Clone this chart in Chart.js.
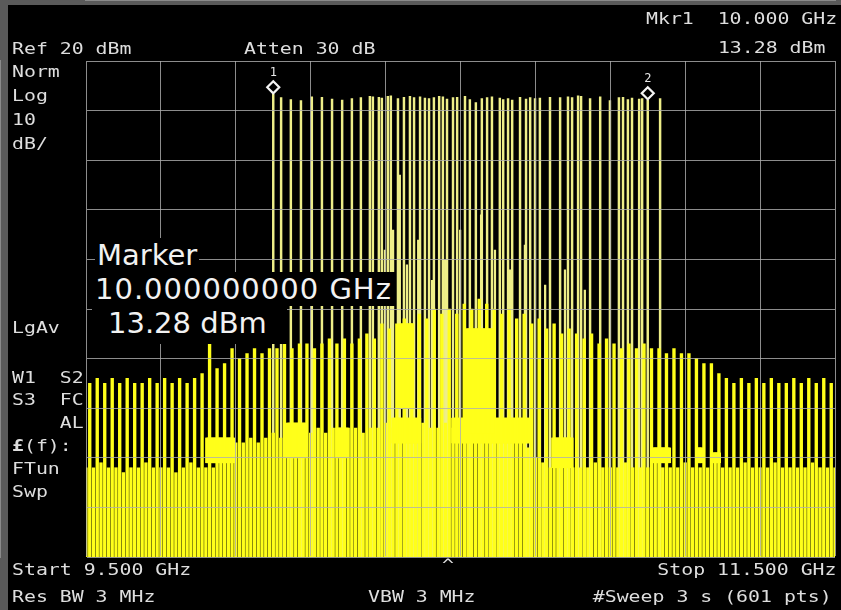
<!DOCTYPE html>
<html>
<head>
<meta charset="utf-8">
<script src="https://cdn.jsdelivr.net/npm/chart.js@4.4.1/dist/chart.umd.min.js"></script>
<style>
  html, body { margin: 0; padding: 0; background: #000; }
  #wrap { position: relative; width: 841px; height: 610px; overflow: hidden; background: #000; }
  #frameTop { position: absolute; left: 0; top: 0; width: 841px; height: 5px; background: #5a5a5a; }
  #frameLeft { position: absolute; left: 0; top: 0; width: 8px; height: 610px; background: #5a5a5a; }
  canvas { position: absolute; left: 0; top: 0; }
  .t { position: absolute; color: #dedede; font-family: "DejaVu Sans Mono", monospace; font-size: 16px;
       line-height: 18px; white-space: pre; transform: scaleX(1.24); transform-origin: left center; }
  .r { transform-origin: right center; }
  .big { position: absolute; color: #f2f2f2; font-family: "DejaVu Sans", sans-serif; font-size: 29px;
         line-height: 34px; white-space: pre; background: #000; }
  .mk { position: absolute; color: #e6e6e6; font-family: "DejaVu Sans Mono", monospace; font-size: 12px;
        line-height: 12px; }
</style>
</head>
<body>
<div id="wrap">
  <div id="frameTop"></div>
  <div id="frameLeft"></div>
  <canvas id="sa" width="841" height="610"></canvas>

  <div class="t r" style="right:4px;top:10px">Mkr1  10.000 GHz</div>
  <div class="t" style="left:12px;top:40px">Ref 20 dBm</div>
  <div class="t" style="left:244px;top:40px">Atten 30 dB</div>
  <div class="t r" style="right:4px;top:39px">13.28 dBm </div>

  <div class="t" style="left:12px;top:63px">Norm</div>
  <div class="t" style="left:12px;top:87px">Log</div>
  <div class="t" style="left:12px;top:111px">10</div>
  <div class="t" style="left:12px;top:135px">dB/</div>
  <div class="t" style="left:12px;top:319px">LgAv</div>
  <div class="t" style="left:12px;top:369px">W1  S2</div>
  <div class="t" style="left:12px;top:391px">S3  FC</div>
  <div class="t" style="left:12px;top:414px">    AL</div>
  <div class="t" style="left:12px;top:437px"><b>£</b>(f):</div>
  <div class="t" style="left:12px;top:460px">FTun</div>
  <div class="t" style="left:12px;top:483px">Swp</div>

  <div class="t" style="left:12px;top:561px">Start 9.500 GHz</div>
  <div class="t r" style="right:5px;top:561px">Stop 11.500 GHz</div>
  <div class="t" style="left:442px;top:556px">^</div>
  <div class="t" style="left:12px;top:588px">Res BW 3 MHz</div>
  <div class="t" style="left:368px;top:588px">VBW 3 MHz</div>
  <div class="t r" style="right:9px;top:588px">#Sweep 3 s (601 pts)</div>

  <div class="big" style="left:95px;top:238px;padding:0 2px">Marker</div>
  <div class="big" style="left:92px;top:272px;padding:0 3px;letter-spacing:1px">10.000000000 GHz</div>
  <div class="big" style="left:92px;top:306px;padding:0 20px 4px 16px">13.28 dBm</div>

  <div class="mk" id="mk1">1</div>
  <div class="mk" id="mk2">2</div>
</div>

<script>
// Sweep settings
const startGHz = 9.5;
const stopGHz = 11.5;
const refLevel = 20;      // dBm, top graticule line
const dbPerDiv = 10;
const binGHz = 2 / 600;   // 601-point sweep

// Lower comb: one line every 20 MHz from 9.500 GHz, top level in dBm
const lowCombStep = 0.02;
const lowComb = [
  -62, -62, -61, -62, -62, -63, -62, -62, -61, -62,
  -62, -62, -63, -62, -61, -62, -62, -62, -61, -58,
  -57, -57, -56, -57, -56, -55, -56, -55, -56, -55,
  -55, -54, -55, -54, -55, -54, -54, -55, -54, -54,
  -53, -54, -54, -53, -54, -53, -54, -54, -53, -54,
  -54, -55, -54, -55, -55, -56, -55, -56, -57, -58,
  -60, -61, -62, -62, -61, -62, -62, -62, -61, -62,
  -62, -62, -61, -62, -62, -62, -61, -62, -62, -62,
  -61, -62, -62, -62, -61, -62, -62, -62, -61, -62,
  -62, -62, -61, -62, -62, -62, -62, -61, -62, -62,
  -62
];

// Upper comb: interleaved lines, first at 9.510 GHz, top level in dBm
const highCombStart = 9.51;
const highCombStep = 0.02;
const highComb = [
  -45, -44, -45, -44, -45, -44, -45, -45, -44, -45,
  -44, -45, -44, -45, -44, -43, -36, -42, -41, -38,
  -40, -39, -38, -39, -38, -38, -37, -38, -37, -37,
  -38, -37, -36, -37, -36, -37, -36, -35, -36, -33,
  -34, -33, -32, -33, -31, -32, -30, -31, -30, -31,
  -29, -30, -28, -29, -30, -31, -30, -32, -31, -33,
  -32, -34, -33, -35, -34, -35, -36, -35, -37, -36,
  -37, -38, -37, -38, -37, -38, -38, -39, -38, -39,
  -39, -40, -41, -41, -43, -44, -45, -44, -45, -44,
  -45, -44, -45, -45, -44, -45, -44, -45, -44, -45
];

// Dense patches of the trace: frequency span (GHz) and level span (dBm)
const patchStart = [9.823, 10.037, 10.170, 10.320, 10.480, 10.515, 10.747, 11.014, 11.131, 11.174, 10.338];
const patchStop  = [9.893, 10.090, 10.197, 10.392, 10.686, 10.585, 10.800, 11.059, 11.147, 11.193, 10.372];
const patchLow   = [-61,   -60,    -60,    -57,    -57,    -55,    -62,    -61,    -61,    -61,    -50];
const patchHigh  = [-56,   -53,    -54,    -52,    -52,    -34,    -56,    -58,    -58,    -59,    -33];

// Intermediate lines
const midFreqs  = [10.298, 10.320, 10.338, 10.357, 10.387, 10.424, 10.459, 10.499, 10.555, 10.592, 10.632, 10.672, 10.726, 10.779, 10.832];
const midLevels = [-18.1, -14.1, -3.0, -21.1, -16.1, -24.2, -20.1, -14.1, -11.0, -18.1, -22.1, -17.1, -25.2, -22.1, -26.2];

// Strong tones between the two markers
const toneFreqs = [
  10.000, 10.021, 10.047, 10.074, 10.103, 10.130, 10.157, 10.184, 10.210, 10.234,
  10.258, 10.266, 10.282, 10.290, 10.306, 10.314, 10.333, 10.349, 10.365, 10.376,
  10.392, 10.405, 10.416, 10.429, 10.443, 10.453, 10.464, 10.480, 10.491, 10.512,
  10.525, 10.541, 10.557, 10.571, 10.584, 10.605, 10.614, 10.627, 10.638, 10.659,
  10.675, 10.686, 10.699, 10.712, 10.739, 10.766, 10.787, 10.798, 10.814, 10.822,
  10.846, 10.873, 10.899, 10.923, 10.934, 10.947, 10.958, 10.977, 10.985, 11.000,
  11.033
];
const toneLevels = [
  13.28, 12.6, 12.2, 12.0, 12.8, 12.7, 12.3, 12.1, 12.4, 12.6,
  12.9, 12.8, 12.7, 12.5, 12.9, 13.0, 12.4, 12.7, 12.9, 12.6,
  12.8, 12.5, 12.4, 12.6, 12.9, 12.8, 12.3, 12.6, 12.7, 12.9,
  12.2, 11.6, 12.4, 12.6, 12.8, 12.5, 12.2, 12.4, 12.1, 12.7,
  12.3, 12.6, 12.4, 12.5, 12.7, 12.6, 12.8, 12.6, 13.0, 12.9,
  12.4, 12.8, 12.0, 12.6, 12.7, 12.2, 12.5, 12.3, 12.4, 12.1,
  12.4
];

// Markers
const markerFreqs = [10.000, 11.000];
const markerLevels = [13.28, 12.1];

const floorDb = refLevel - 10 * dbPerDiv - 30;  // below the bottom graticule

const lowData = lowComb.map((v, i) => ({ x: startGHz + i * lowCombStep, y: [floorDb, v] }));
const highData = highComb.map((v, i) => ({ x: highCombStart + i * highCombStep, y: [floorDb, v] }));
const patchData = [];
patchStart.forEach((f0, i) => {
  for (let f = f0; f <= patchStop[i] + 1e-9; f += binGHz) {
    patchData.push({ x: f, y: [patchLow[i], patchHigh[i]] });
  }
});
const midData = midFreqs.map((f, i) => ({ x: f, y: [floorDb, midLevels[i]] }));
const toneData = toneFreqs.map((f, i) => ({ x: f, y: [floorDb, toneLevels[i]] }));

const yellow = '#ffff1a';
const paleYellow = '#eeee88';

const markerPlugin = {
  id: 'markers',
  afterDatasetsDraw(chart) {
    const { ctx, scales } = chart;
    ctx.save();
    ctx.strokeStyle = '#f4f4f4';
    ctx.fillStyle = '#000';
    ctx.lineWidth = 2.2;
    markerFreqs.forEach((f, i) => {
      const px = scales.x.getPixelForValue(f);
      const py = scales.y.getPixelForValue(markerLevels[i]) - 7;
      const h = 6;
      ctx.beginPath();
      ctx.moveTo(px, py - h);
      ctx.lineTo(px + h, py);
      ctx.lineTo(px, py + h);
      ctx.lineTo(px - h, py);
      ctx.closePath();
      ctx.fill();
      ctx.stroke();
      const lab = document.getElementById('mk' + (i + 1));
      lab.style.left = (px - 3.5) + 'px';
      lab.style.top = (py - 21) + 'px';
    });
    ctx.restore();
  }
};

const gridColor = 'rgba(175,175,175,0.8)';

// Combs drawn over the thin tones (lower dataset index is painted on top)
new Chart(document.getElementById('sa'), {
  type: 'bar',
  data: {
    datasets: [
      { data: patchData, backgroundColor: yellow, barThickness: 3, borderWidth: 0 },
      { data: highData, backgroundColor: yellow, barThickness: 2.7, borderWidth: 0 },
      { data: lowData, backgroundColor: yellow, barThickness: 2.7, borderWidth: 0 },
      { data: midData, backgroundColor: paleYellow, barThickness: 1.6, borderWidth: 0 },
      { data: toneData, backgroundColor: paleYellow, barThickness: 1.8, borderWidth: 0 }
    ]
  },
  options: {
    responsive: false,
    animation: false,
    events: [],
    layout: { padding: { left: 86, top: 61, right: 6, bottom: 53 } },
    datasets: { bar: { grouped: false } },
    plugins: { legend: { display: false }, tooltip: { enabled: false } },
    scales: {
      x: {
        type: 'linear', min: startGHz, max: stopGHz, offset: false,
        ticks: { display: false, stepSize: 0.2 },
        grid: { color: gridColor, lineWidth: 1, drawTicks: false, z: 1, offset: false },
        border: { color: '#8a8a8a', width: 2 }
      },
      y: {
        min: refLevel - 10 * dbPerDiv, max: refLevel,
        ticks: { display: false, stepSize: dbPerDiv },
        grid: { color: gridColor, lineWidth: 1, drawTicks: false, z: 1 },
        border: { color: '#8a8a8a', width: 2 }
      }
    }
  },
  plugins: [markerPlugin]
});
</script>
</body>
</html>
